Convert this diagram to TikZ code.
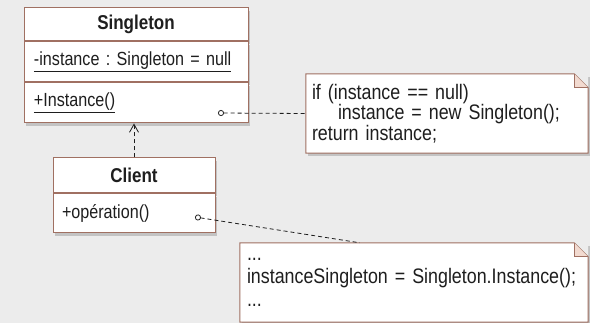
\documentclass[tikz,border=0pt]{standalone}
\usepackage{fontspec}
\setmainfont{Liberation Sans}[FakeStretch=0.85]
\usetikzlibrary{positioning,calc,arrows.meta,shadows}
\frenchspacing

\definecolor{umlline}{RGB}{160,112,98}
\definecolor{umlfold}{RGB}{242,218,208}
\definecolor{paper}{RGB}{236,236,236}
\definecolor{ink}{RGB}{30,30,30}

\tikzset{
  boxshadow/.style={drop shadow={shadow xshift=2pt, shadow yshift=-3pt, opacity=0.3, fill=black!60}},
  classpart/.style={draw=umlline, fill=white, line width=1pt, inner xsep=10pt, inner ysep=0pt, text=ink, boxshadow},
  classname/.style={classpart, font=\fontsize{20}{22}\selectfont\bfseries, align=center},
  classmember/.style={classpart, font=\fontsize{19}{21}\selectfont, align=left},
  notebox/.style={fill=white, inner xsep=6pt, inner ysep=0pt, align=left, text=ink, boxshadow},
  noteline/.style={draw=umlline, line width=1pt},
  link/.style={ink, line width=0.8pt, dash pattern=on 4pt off 3pt},
}

\begin{document}
\begin{tikzpicture}[x=1pt,y=-1pt]
  \fill[paper] (0,0) rectangle (590,323);
  \useasboundingbox (0,0) rectangle (590,323);

  % class Singleton
  \node[classname, minimum width=224pt, minimum height=33pt] (singName) at (136,24.5) {Singleton};
  \node[classmember, text width=204pt, minimum height=40pt, below=0pt of singName] (singAttr)
    {\underline{-instance : Singleton = null}};
  \node[classmember, text width=204pt, minimum height=40pt, below=0pt of singAttr] (singOps)
    {\underline{+Instance()}};

  % class Client
  \node[classname, minimum width=162pt, minimum height=35pt] (clientName) at (134,175.5) {Client};
  \node[classmember, text width=144pt, inner xsep=9pt, minimum height=39pt, below=0pt of clientName] (clientOps)
    {+op\'eration()};

  % notes
  \node[notebox, text width=270pt, minimum height=79pt, font=\fontsize{21}{20.5}\selectfont] (initNote) at (447,113.5)
    {if (instance == null)\\\hspace*{26pt}instance = new Singleton();\\return instance;};
  \node[notebox, text width=334pt, inner xsep=7pt, minimum height=79pt, font=\fontsize{21}{23}\selectfont] (useNote) at (414,282.5)
    {...\\instanceSingleton = Singleton.Instance();\\...};

  \foreach \n in {initNote,useNote}{
    \fill[paper] ([xshift=-14pt]\n.north east) -- (\n.north east) -- ([yshift=-14pt]\n.north east) -- cycle;
    \draw[noteline] ([xshift=-14pt]\n.north east) -- (\n.north west) -- (\n.south west)
      -- (\n.south east) -- ([yshift=-14pt]\n.north east) -- cycle;
    \filldraw[noteline, fill=umlfold] ([xshift=-14pt]\n.north east) -- ([xshift=-14pt,yshift=-14pt]\n.north east)
      -- ([yshift=-14pt]\n.north east);
  }

  % dependency and note links
  \coordinate (instCall) at (218,113);
  \coordinate (opCall) at (195,217);
  \draw[link, -{Straight Barb[length=8pt,width=9pt]}] (clientName.north) -- (clientName.north |- singOps.south);
  \draw[link, {Circle[open,length=6pt,line width=0.8pt]}-] (instCall) -- (initNote.west);
  \draw[link, {Circle[open,length=6pt,line width=0.8pt]}-] (opCall) -- ($(useNote.north west)+(120,0)$);
\end{tikzpicture}
\end{document}
